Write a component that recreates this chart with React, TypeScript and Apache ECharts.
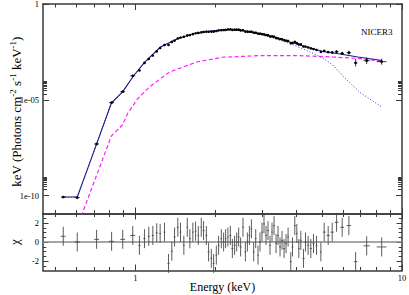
import { useEffect, useRef } from "react";
import * as echarts from "echarts";

// ---- data ----
const energy = [0.536, 0.605, 0.715, 0.814, 0.896, 0.977, 1.035, 1.081, 1.122, 1.162,
  1.202, 1.238, 1.285, 1.331, 1.369, 1.402, 1.442, 1.476, 1.519, 1.565,
  1.600, 1.642, 1.681, 1.721, 1.766, 1.801, 1.845, 1.881, 1.926, 1.965,
  2.011, 2.051, 2.100, 2.142, 2.179, 2.223, 2.270, 2.310, 2.355, 2.398,
  2.439, 2.481, 2.532, 2.585, 2.630, 2.676, 2.723, 2.777, 2.826, 2.883,
  2.933, 2.984, 3.036, 3.089, 3.143, 3.198, 3.254, 3.311, 3.369, 3.427,
  3.487, 3.548, 3.611, 3.673, 3.738, 3.826, 3.883, 3.961, 4.031, 4.101,
  4.173, 4.272, 4.345, 4.444, 4.549, 4.656, 4.778, 4.962, 5.106, 5.285,
  5.470, 5.683, 5.966, 6.320, 6.700, 7.370, 8.390];

const binHalf = [0.011, 0.013, 0.015, 0.017, 0.019, 0.021,
  0.01, 0.01, 0.01, 0.01, 0.01, 0.01, 0.01,
  0.012, 0.012, 0.012, 0.012, 0.012, 0.012, 0.012, 0.012, 0.012, 0.012, 0.012, 0.012,
  0.015, 0.015, 0.015, 0.015, 0.015, 0.015, 0.015, 0.015, 0.015, 0.015, 0.015,
  0.02, 0.02, 0.02, 0.02, 0.02, 0.02, 0.02, 0.02, 0.02, 0.02, 0.02, 0.02, 0.02, 0.02,
  0.025, 0.025, 0.025, 0.025, 0.025, 0.025, 0.025, 0.025, 0.025, 0.025,
  0.03, 0.03, 0.03, 0.03, 0.03, 0.03, 0.03, 0.03, 0.03, 0.03, 0.03,
  0.04, 0.04, 0.04, 0.04, 0.04, 0.04, 0.04,
  0.06, 0.07, 0.08, 0.09, 0.1, 0.12,
  0.1, 0.2, 0.35];

// log10 of keV (Photons cm^-2 s^-1 keV^-1)
const dataLogFlux = [-10.08, -10.11, -7.31, -5.15, -4.58, -3.75, -3.47, -3.08, -2.87, -2.69,
  -2.48, -2.30, -2.14, -2.14, -1.98, -1.91, -1.80, -1.75, -1.71, -1.64,
  -1.62, -1.57, -1.53, -1.51, -1.48, -1.46, -1.44, -1.45, -1.44, -1.44,
  -1.41, -1.38, -1.37, -1.36, -1.35, -1.33, -1.32, -1.35, -1.34, -1.34,
  -1.34, -1.38, -1.37, -1.44, -1.44, -1.45, -1.44, -1.50, -1.50, -1.55,
  -1.55, -1.57, -1.58, -1.62, -1.63, -1.69, -1.69, -1.70, -1.77, -1.79,
  -1.83, -1.84, -1.89, -1.91, -1.93, -2.05, -2.03, -1.98, -2.04, -2.11,
  -2.11, -2.22, -2.22, -2.27, -2.32, -2.35, -2.40, -2.50, -2.45, -2.51,
  -2.53, -2.49, -2.58, -2.54, -3.07, -2.96, -3.01];

const dataErrDex = [0.06, 0.06, 0.06, 0.06, 0.06, 0.06,
  0.02, 0.02, 0.02, 0.02, 0.02, 0.02, 0.02, 0.02, 0.02, 0.02, 0.02, 0.02,
  0.02, 0.02, 0.02, 0.02, 0.02, 0.02, 0.02, 0.02, 0.02, 0.02, 0.02, 0.02,
  0.02, 0.02, 0.02, 0.02, 0.02, 0.02, 0.02, 0.02, 0.02, 0.02, 0.02, 0.02,
  0.02, 0.02, 0.02, 0.02, 0.02, 0.02, 0.02, 0.02, 0.02, 0.02, 0.02, 0.02,
  0.02, 0.02, 0.02, 0.02, 0.02, 0.02, 0.02, 0.02, 0.02, 0.02, 0.02, 0.02,
  0.02, 0.02, 0.02, 0.02, 0.02, 0.02, 0.02, 0.02, 0.02, 0.02, 0.02, 0.02,
  0.05, 0.05, 0.06, 0.06, 0.08, 0.1, 0.19, 0.17, 0.16];

const chi = [0.6, 0, 0.28, 0.07, 0.28, 0.69, -0.35, 0.35, 0.6, 0.69,
  0.97, 0.9, 1.04, -2.25, -0.97, 0.52, 1.55, 1.04, -0.35, 1.55,
  0.35, 1.04, 1.14, 0.69, 1.55, 1.2, 0.69, -1.04, -1.73, -2.25,
  -1.38, -0.35, 0.35, 0, 0.35, 0.52, 0.69, -0.69, -0.35, 0,
  0.52, -0.52, 1.55, -1.04, 0, 0.69, 1.38, -1.04, 0.35, -1.38,
  0, 1.04, 1.9, 0.69, 1.2, -0.35, 1.04, 1.73, -0.17, 0.69,
  -0.52, 0.17, -0.69, -0.17, 0.52, -2.07, -0.52, 1.73, 0.9, -0.69,
  0.17, -1.73, 0, -0.35, -0.69, -0.17, -0.35, -1.04, 1.04, 0.69,
  1.04, 2.07, 1.55, 1.73, -2.07, -0.4, -0.52];

const modelEnergy = [0.5315, 0.605, 0.7134, 0.8124, 0.8934, 0.9828, 1.081, 1.2416, 1.4384, 1.667,
  1.914, 2.218, 2.46, 2.851, 3.273, 3.793, 4.395, 5.047, 5.848, 6.833, 8.41];
const modelLogFlux = [-10.08, -10.08, -7.34, -5.17, -4.60, -3.76, -3.05, -2.245, -1.81, -1.54,
  -1.41, -1.33, -1.37, -1.51, -1.72, -1.98, -2.245, -2.48, -2.61, -2.77, -2.95];

const plEnergy = [0.6266, 0.8124, 0.8934, 0.9331, 1.0175, 1.129, 1.342, 1.696, 2.124, 3.002,
  4.135, 5.362, 6.833, 8.41];
const plLogFlux = [-11.07, -6.89, -6.32, -5.74, -4.96, -4.33, -3.55, -3.03, -2.78, -2.69,
  -2.70, -2.76, -2.84, -2.99];

const bbEnergy = [0.5315, 0.605, 0.7134, 0.8124, 0.8934, 0.9828, 1.081, 1.2416, 1.4384, 1.667,
  1.914, 2.218, 2.46, 2.851, 3.273, 3.793, 4.395, 5.047, 5.504, 6.0, 6.953, 8.41];
const bbLogFlux = [-10.09, -10.09, -7.35, -5.18, -4.61, -3.77, -3.065, -2.256, -1.822, -1.551,
  -1.420, -1.347, -1.389, -1.540, -1.770, -2.063, -2.423, -2.830, -3.185, -3.760, -4.621, -5.379];

// ---- axes / ticks ----
const X_MIN = 0.45;
const X_MAX = 10;
const Y_MIN = 1.15e-11;
const Y_MAX = 1;
const xTickMajor = [1, 10];
const xTickMinor = [0.5, 0.6, 0.7, 0.8, 0.9, 2, 3, 4, 5, 6, 7, 8, 9];
const yTopMajor = [1e-10, 1e-5, 1];
const yTopMinor = [2e-10, 3e-10, 4e-10, 5e-10, 6e-10, 7e-10, 8e-10, 9e-10,
  2e-5, 3e-5, 4e-5, 5e-5, 6e-5, 7e-5, 8e-5, 9e-5];
const chiMajor = [-2, 0, 2];
const chiMinor = [-2.5, -1.5, -1, -0.5, 0.5, 1, 1.5, 2.5];

const FONT = "Liberation Serif";
const FRAME = "#3a3a3a";

const pw = (v: number) => Math.pow(10, v);
const pairs = (es: number[], ls: number[]) => es.map((e, i) => [e, pw(ls[i])]);

const topPoints = energy.map((e, i) => [e, pw(dataLogFlux[i]), pw(dataLogFlux[i] - dataErrDex[i]),
  pw(dataLogFlux[i] + dataErrDex[i]), e - binHalf[i], e + binHalf[i]]);
const resPoints = energy.map((e, i) => [e, chi[i], chi[i] - 1, chi[i] + 1, e - binHalf[i], e + binHalf[i]]);

const makeRender = (dot: boolean, color: string, width: number) => (_p: any, api: any) => {
  const e = api.value(0);
  const v = api.value(1);
  const c = api.coord([e, v]);
  const lo = api.coord([e, api.value(2)]);
  const hi = api.coord([e, api.value(3)]);
  const l = api.coord([api.value(4), v]);
  const r = api.coord([api.value(5), v]);
  const st = { stroke: color, lineWidth: width };
  const children: any[] = [
    { type: "line", shape: { x1: c[0], y1: lo[1], x2: c[0], y2: hi[1] }, style: st },
    { type: "line", shape: { x1: l[0], y1: c[1], x2: r[0], y2: c[1] }, style: st },
  ];
  if (dot) children.push({ type: "circle", shape: { cx: c[0], cy: c[1], r: 1.3 }, style: { fill: color } });
  return { type: "group", children };
};

const labelStyle = { fontFamily: FONT, fontSize: 8.5, color: "#000" };

function xAx(grid: number, pos: string, ticks: number[], len: number, line: boolean, extra: any = {}) {
  return {
    type: "log", logBase: 10, gridIndex: grid, position: pos, min: X_MIN, max: X_MAX,
    axisLine: { show: line, onZero: false, lineStyle: { color: FRAME, width: 1.5 } },
    axisTick: { show: true, inside: true, length: len, customValues: ticks, lineStyle: { color: FRAME, width: 1 } },
    axisLabel: { show: false },
    splitLine: { show: false },
    nameMoveOverlap: false,
    ...extra,
  };
}

function yAx(grid: number, pos: string, ticks: number[], len: number, line: boolean, isLog: boolean, extra: any = {}) {
  return {
    type: isLog ? "log" : "value", gridIndex: grid, position: pos,
    ...(isLog ? { logBase: 10, min: Y_MIN, max: Y_MAX } : { min: -3, max: 3 }),
    axisLine: { show: line, onZero: false, lineStyle: { color: FRAME, width: 1.5 } },
    axisTick: { show: true, inside: true, length: len, customValues: ticks, lineStyle: { color: FRAME, width: 1 } },
    axisLabel: { show: false },
    splitLine: { show: false },
    nameMoveOverlap: false,
    ...extra,
  };
}

const fmtTop = (v: number) => {
  if (v >= 0.999) return "1";
  const a = Math.round(-Math.log10(v));
  return "1e-" + (a < 10 ? "0" + a : String(a));
};

const option: any = {
  animation: false,
  textStyle: { fontFamily: FONT },
  grid: [
    { left: 43, right: 7, top: 4, height: 209.5, containLabel: false, outerBoundsMode: "none" },
    { left: 43, right: 7, top: 213.5, height: 57, containLabel: false, outerBoundsMode: "none" },
  ],
  xAxis: [
    xAx(0, "bottom", xTickMajor, 6, true),
    xAx(0, "top", xTickMajor, 6, true),
    xAx(0, "bottom", xTickMinor, 3.5, false),
    xAx(0, "top", xTickMinor, 3.5, false),
    xAx(1, "bottom", xTickMajor, 6, true, {
      axisLabel: { show: true, customValues: xTickMajor, margin: 3, formatter: (v: number) => String(Math.round(v)), ...labelStyle },
      name: "Energy (keV)", nameLocation: "middle", nameGap: 10,
      nameTextStyle: { fontFamily: FONT, fontSize: 12, color: "#000" },
    }),
    xAx(1, "top", xTickMajor, 6, true),
    xAx(1, "bottom", xTickMinor, 3.5, false),
    xAx(1, "top", xTickMinor, 3.5, false),
  ],
  yAxis: [
    yAx(0, "left", yTopMajor, 6, true, true, {
      axisLabel: { show: true, customValues: yTopMajor, margin: 4, formatter: fmtTop, ...labelStyle },
      name: "keV (Photons cm{s|-2} s{s|-1} keV{s|-1})", nameLocation: "middle", nameGap: 19,
      nameTextStyle: {
        fontFamily: FONT, fontSize: 13, color: "#000", padding: [0, 6, 0, 0],
        rich: { s: { fontFamily: FONT, fontSize: 9, color: "#000", padding: [0, 0, 7, 0] } },
      },
    }),
    yAx(0, "right", yTopMajor, 6, true, true),
    yAx(0, "left", yTopMinor, 4, false, true),
    yAx(0, "right", yTopMinor, 4, false, true),
    yAx(1, "left", chiMajor, 5.5, true, false, {
      axisLabel: { show: true, customValues: chiMajor, margin: 4, formatter: (v: number) => String(v), ...labelStyle },
      name: "χ", nameLocation: "middle", nameGap: 22,
      nameTextStyle: { fontFamily: FONT, fontSize: 13, color: "#000" },
    }),
    yAx(1, "right", chiMajor, 5.5, true, false),
    yAx(1, "left", chiMinor, 3.3, false, false),
    yAx(1, "right", chiMinor, 3.3, false, false),
  ],
  graphic: [
    { type: "text", left: 361, top: 27, style: { text: "NICER3", fontFamily: FONT, fontSize: 9, fill: "#000" } },
  ],
  series: [
    {
      name: "bbody", type: "line", xAxisIndex: 0, yAxisIndex: 0, data: pairs(bbEnergy, bbLogFlux),
      symbol: "none", clip: true, lineStyle: { color: "#1f3cff", width: 1, type: [1, 2] }, z: 2,
    },
    {
      name: "powerlaw", type: "line", xAxisIndex: 0, yAxisIndex: 0, data: pairs(plEnergy, plLogFlux),
      symbol: "none", clip: true, lineStyle: { color: "#ff20ff", width: 1.2, type: [4, 2.5] }, z: 3,
    },
    {
      name: "model", type: "line", xAxisIndex: 0, yAxisIndex: 0, data: pairs(modelEnergy, modelLogFlux),
      symbol: "none", clip: true, lineStyle: { color: "#1c1c80", width: 1.1 }, z: 4,
    },
    {
      name: "data", type: "custom", xAxisIndex: 0, yAxisIndex: 0, data: topPoints,
      encode: { x: 0, y: 1 }, renderItem: makeRender(true, "#000", 0.8), z: 5,
    },
    {
      name: "residuals", type: "custom", xAxisIndex: 4, yAxisIndex: 4, data: resPoints,
      encode: { x: 0, y: 1 }, renderItem: makeRender(false, "#4a4a4a", 0.9), z: 5,
      markLine: {
        silent: true, symbol: ["none", "none"], label: { show: false },
        lineStyle: { color: "#8a8a8a", width: 1.5, type: "solid" },
        data: [{ yAxis: 0 }],
      },
    },
  ],
};

export default function App() {
  const ref = useRef<HTMLDivElement>(null);
  useEffect(() => {
    document.body.style.margin = "0";
    const chart = echarts.init(ref.current!, null, { renderer: "svg" });
    chart.setOption(option);
    return () => chart.dispose();
  }, []);
  return <div ref={ref} style={{ width: 409, height: 295 }} />;
}
